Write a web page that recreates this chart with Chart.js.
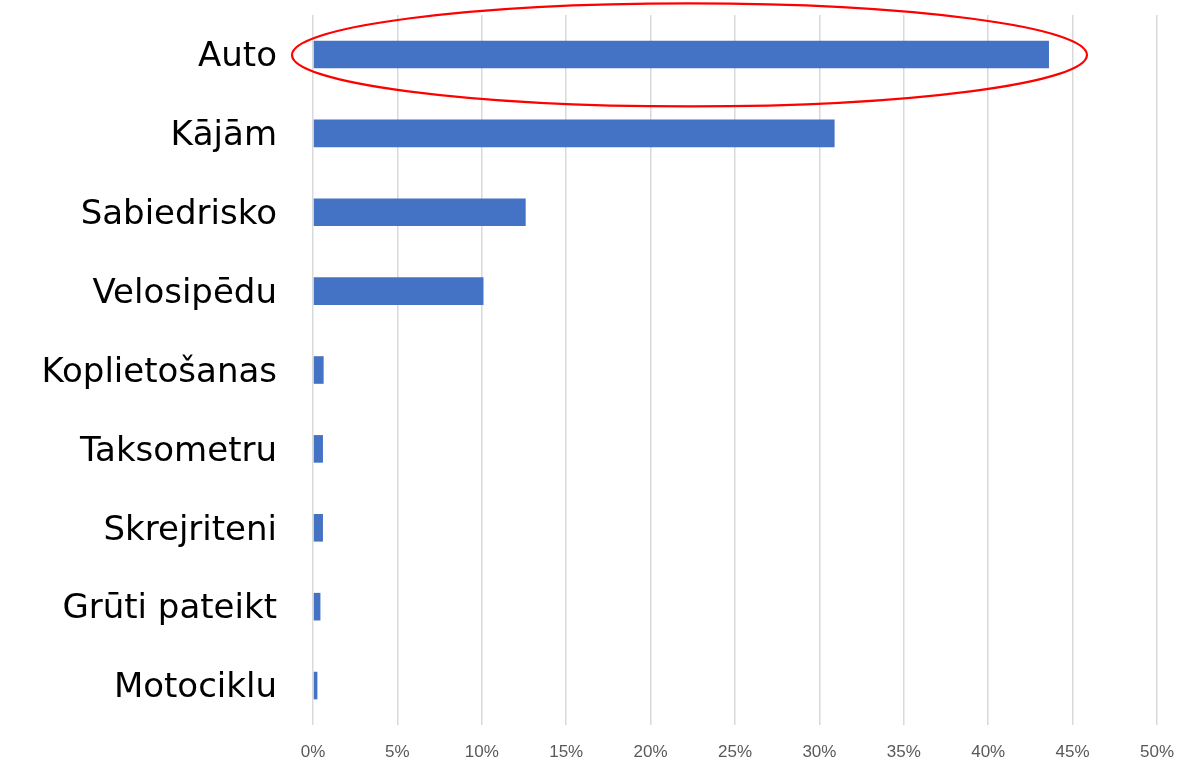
<!DOCTYPE html>
<html>
<head>
<meta charset="utf-8">
<script src="https://cdn.jsdelivr.net/npm/chart.js@4/dist/chart.umd.min.js"></script>
<style>
html,body{margin:0;padding:0;background:#fff;}
#wrap{width:1180px;height:768px;position:relative;}
</style>
</head>
<body>
<div id="wrap"><canvas id="c" width="1180" height="768"></canvas></div>
<script>
const categories = ["Auto","Kājām","Sabiedrisko","Velosipēdu","Koplietošanas","Taksometru","Skrejriteni","Grūti pateikt","Motociklu"];
const shares = [43.6, 30.9, 12.6, 10.1, 0.63, 0.59, 0.59, 0.44, 0.26];
const tickValues = [0,5,10,15,20,25,30,35,40,45,50];
const highlightIndex = 0;

const ellipsePlugin = {
  id: 'ellipse',
  afterDatasetsDraw(chart) {
    const {ctx, scales} = chart;
    const x0 = scales.x.getPixelForValue(0);
    const x1 = scales.x.getPixelForValue(shares[highlightIndex]);
    const cy = scales.y.getPixelForValue(highlightIndex);
    const left = x0 - 21, right = x1 + 38;
    ctx.save();
    ctx.beginPath();
    ctx.ellipse((left+right)/2, cy+0.5, (right-left)/2, 51.5, 0, 0, Math.PI*2);
    ctx.strokeStyle = '#ff0000';
    ctx.lineWidth = 2.2;
    ctx.stroke();
    ctx.restore();
  }
};

new Chart(document.getElementById('c'), {
  type: 'bar',
  data: {
    labels: categories,
    datasets: [{
      data: shares,
      backgroundColor: '#4472c4',
      borderWidth: 0,
      barPercentage: 0.35,
      categoryPercentage: 1.0
    }]
  },
  options: {
    indexAxis: 'y',
    responsive: false,
    animation: false,
    devicePixelRatio: 1,
    layout: { padding: { top: 15, right: 23, left: 0, bottom: 0 } },
    plugins: { legend: { display: false }, tooltip: { enabled: false } },
    scales: {
      x: {
        min: 0, max: 50,
        afterBuildTicks(axis) { axis.ticks = tickValues.map(v => ({value: v})); },
        afterFit(axis) { axis.height = 43; axis.paddingLeft = 0; axis.paddingRight = 0; },
        grid: { color: '#d9d9d9', lineWidth: 1.5, drawTicks: false },
        border: { display: false },
        ticks: {
          padding: 17,
          color: '#595959',
          font: { family: 'Liberation Sans', size: 17 },
          callback: v => v + '%'
        }
      },
      y: {
        afterFit(axis) { axis.width = 313; axis.paddingTop = 0; axis.paddingBottom = 0; },
        grid: { display: false, drawTicks: false },
        border: { display: false },
        ticks: {
          padding: 36,
          labelOffset: 3,
          color: '#000000',
          font: { family: 'DejaVu Sans', size: 34 }
        }
      }
    }
  },
  plugins: [ellipsePlugin]
});
</script>
</body>
</html>
